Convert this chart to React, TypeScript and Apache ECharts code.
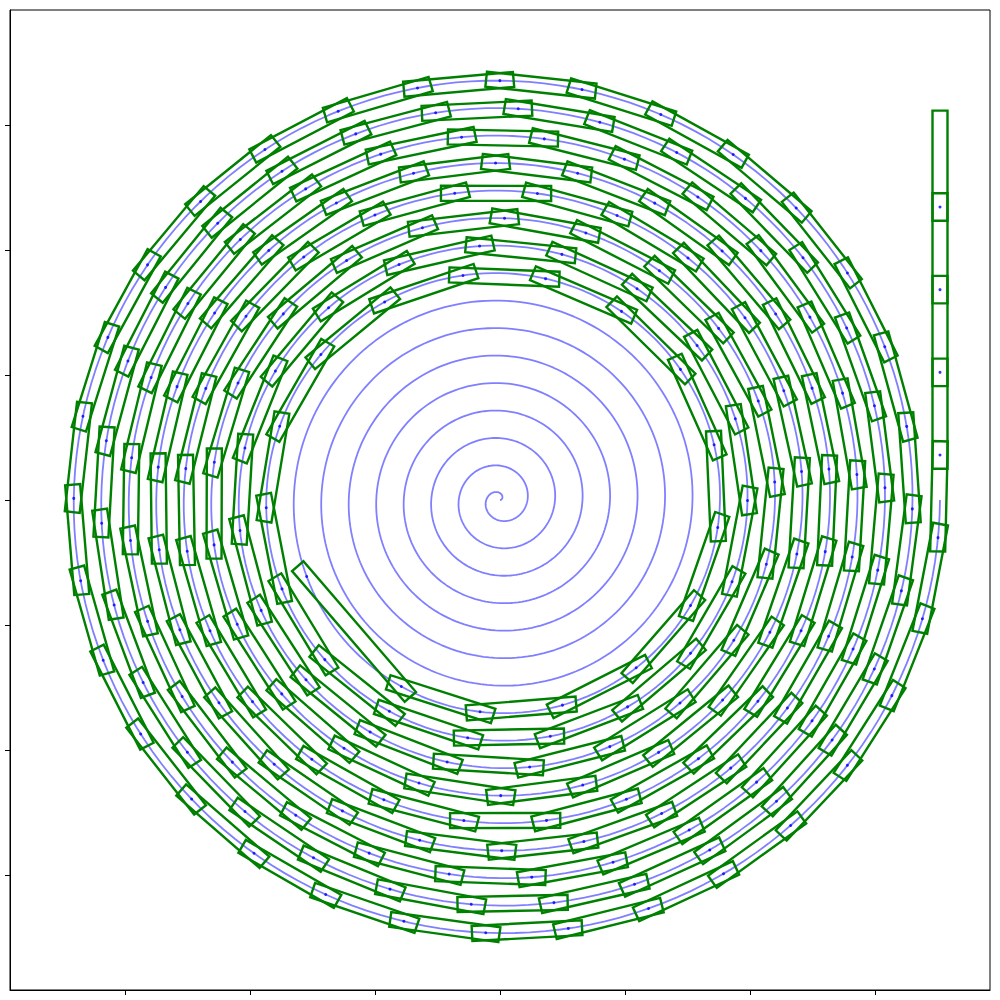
import { useEffect, useRef } from "react";
import * as echarts from "echarts";

// ---- chart parameters ----
const TURNS = 16; // number of spiral turns
const PITCH = 0.22; // radial growth per turn (data units)
const SAMPLES_PER_TURN = 180;
const AXIS_MIN = -3.92;
const AXIS_MAX = 3.92;
const TICK_VALUES = [-3, -2, -1, 0, 1, 2, 3];

// chain ("tape") parameters
const LINK_LENGTH_RANGE = [0.6563, 0.6663];
const FIRST_VERTICAL_OFFSET = 0.36; // first straight node above spiral end
const VERTICAL_LINKS = 4; // links on the straight part
const INNER_NODE_TURN = 7.6725; // innermost regular node
const TAIL_NODE_TURN = 7.56; // loose tail node
const STRIP_HALF_WIDTH = 0.06;
const STRIP_OVERHANG = 0.11;

const SPIRAL_COLOR = "rgba(0,0,255,0.5)";
const CHAIN_COLOR = "#008000";
const DOT_COLOR = "#0000ff";

function spiral(t: number): [number, number] {
  const r = PITCH * t;
  const a = 2 * Math.PI * t;
  return [r * Math.cos(a), r * Math.sin(a)];
}

function nextOnSpiral(from: [number, number], t0: number, L: number) {
  let lo = t0 - 0.25;
  let hi = t0;
  for (let i = 0; i < 40; i++) {
    const mid = (lo + hi) / 2;
    const p = spiral(mid);
    const d = Math.hypot(p[0] - from[0], p[1] - from[1]);
    if (d > L) lo = mid;
    else hi = mid;
  }
  return (lo + hi) / 2;
}

type Node = { p: [number, number]; t: number | null };

function buildChain(L: number) {
  const rEnd = PITCH * TURNS;
  const nodes: Node[] = [];
  for (let k = VERTICAL_LINKS; k >= 0; k--) {
    nodes.push({ p: [rEnd, FIRST_VERTICAL_OFFSET + k * L], t: null });
  }
  let from: [number, number] = [rEnd, FIRST_VERTICAL_OFFSET];
  let t = TURNS;
  for (let guard = 0; guard < 1000; guard++) {
    const tn = nextOnSpiral(from, t, L);
    if (tn < INNER_NODE_TURN - 0.1) break;
    const p = spiral(tn);
    nodes.push({ p, t: tn });
    from = p;
    t = tn;
  }
  let best = -1;
  let err = Infinity;
  nodes.forEach((n, i) => {
    if (n.t === null) return;
    const e = Math.abs(n.t - INNER_NODE_TURN);
    if (e < err) {
      err = e;
      best = i;
    }
  });
  return { nodes, best, err };
}

function computeChain(): [number, number][] {
  let bestRes: { nodes: Node[]; best: number; err: number } | null = null;
  for (let L = LINK_LENGTH_RANGE[0]; L <= LINK_LENGTH_RANGE[1]; L += 0.00002) {
    const res = buildChain(L);
    if (!bestRes || res.err < bestRes.err) bestRes = res;
  }
  const nodes = bestRes!.nodes.slice(0, bestRes!.best + 1).map((n) => n.p);
  nodes.push(spiral(TAIL_NODE_TURN));
  return nodes;
}

export default function App() {
  const ref = useRef<HTMLDivElement>(null);

  useEffect(() => {
    document.body.style.margin = "0";
    if (!ref.current) return;
    const chart = echarts.init(ref.current, undefined, { renderer: "svg" });

    const spiralData: [number, number][] = [];
    const n = TURNS * SAMPLES_PER_TURN;
    for (let i = 0; i <= n; i++) spiralData.push(spiral((i / n) * TURNS));

    const chain = computeChain();
    const links: number[][] = [];
    for (let i = 0; i < chain.length - 1; i++) {
      links.push([chain[i][0], chain[i][1], chain[i + 1][0], chain[i + 1][1]]);
    }
    const dots = chain.slice(1);

    const axisCommon = {
      type: "value" as const,
      min: AXIS_MIN,
      max: AXIS_MAX,
      axisLine: { show: true, onZero: false, lineStyle: { color: "#000", width: 1 } },
      axisTick: {
        show: true,
        inside: false,
        length: 5,
        customValues: TICK_VALUES,
        lineStyle: { color: "#000", width: 1 },
      },
      axisLabel: { show: false },
      splitLine: { show: false },
    };

    chart.setOption({
      animation: false,
      grid: {
        left: 10,
        right: 10,
        top: 10,
        bottom: 10,
        show: true,
        borderColor: "#000",
        borderWidth: 1,
        backgroundColor: "transparent",
      },
      xAxis: axisCommon,
      yAxis: axisCommon,
      series: [
        {
          type: "line",
          data: spiralData,
          showSymbol: false,
          symbol: "none",
          silent: true,
          z: 1,
          lineStyle: { color: SPIRAL_COLOR, width: 1.8 },
        },
        {
          type: "custom",
          data: links,
          silent: true,
          z: 2,
          encode: { x: [0, 2], y: [1, 3] },
          renderItem: (_params: any, api: any) => {
            const ax = api.value(0), ay = api.value(1);
            const bx = api.value(2), by = api.value(3);
            const len = Math.hypot(bx - ax, by - ay);
            const ux = (bx - ax) / len, uy = (by - ay) / len;
            const nx = -uy, ny = ux;
            const h = STRIP_OVERHANG, w = STRIP_HALF_WIDTH;
            const a0 = [ax - h * ux, ay - h * uy];
            const b0 = [bx + h * ux, by + h * uy];
            const pts = [
              [a0[0] + w * nx, a0[1] + w * ny],
              [b0[0] + w * nx, b0[1] + w * ny],
              [b0[0] - w * nx, b0[1] - w * ny],
              [a0[0] - w * nx, a0[1] - w * ny],
            ].map((p) => api.coord(p));
            return {
              type: "polygon",
              shape: { points: pts },
              style: { fill: "none", stroke: CHAIN_COLOR, lineWidth: 2.4 },
            };
          },
        },
        {
          type: "scatter",
          data: dots,
          symbolSize: 3,
          silent: true,
          z: 3,
          itemStyle: { color: DOT_COLOR },
        },
      ],
    });

    return () => chart.dispose();
  }, []);

  return (
    <div
      ref={ref}
      style={{ position: "absolute", left: 0, top: 0, width: 1000, height: 1000 }}
    />
  );
}
